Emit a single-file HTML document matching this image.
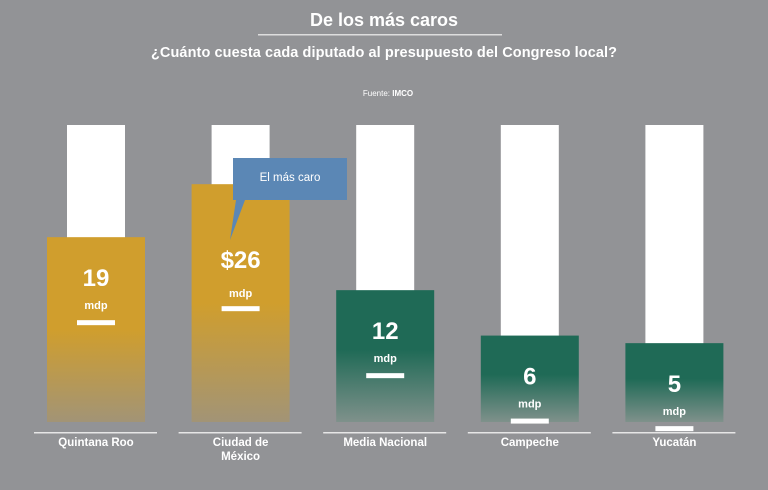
<!DOCTYPE html>
<html><head><meta charset="utf-8"><style>
body{margin:0;width:768px;height:485px;background:#929396;font-family:"Liberation Sans",sans-serif;overflow:hidden}
</style></head><body>
<svg width="768" height="485">
<defs>
<linearGradient id="gGold" x1="0" y1="0" x2="0" y2="1"><stop offset="0.5" stop-color="#d09e2d"/><stop offset="1" stop-color="#a29476"/></linearGradient>
<linearGradient id="gGreen" x1="0" y1="0" x2="0" y2="1"><stop offset="0.45" stop-color="#1f6a56"/><stop offset="1" stop-color="#7f918b"/></linearGradient>
</defs>
<text x="384" y="26" text-anchor="middle" font-size="18" font-weight="bold" fill="#fff">De los más caros</text>
<rect x="258" y="34" width="244" height="1.5" fill="#ddd"/>
<text x="384" y="57" text-anchor="middle" font-size="14.5" font-weight="bold" fill="#fff" textLength="466">¿Cuánto cuesta cada diputado al presupuesto del Congreso local?</text>
<text x="388" y="96" text-anchor="middle" font-size="8" fill="#fff">Fuente: <tspan font-weight="bold">IMCO</tspan></text>
<g id="bars"></g>
<g>
<path d="M233,158 H347 V200 H245 L230,240 L236,200 H233 Z" fill="#5b87b5"/>
<text x="290" y="181" text-anchor="middle" font-size="11.5" fill="#fff">El más caro</text>
</g>
</svg>
<script>
const categories=["Quintana Roo","Ciudad de|México","Media Nacional","Campeche","Yucatán"];
const values=[19,26,12,6,5];
const valueLabels=["19","$26","12","6","5"];
const colorKeys=["gold","gold","green","green","green"];
const ns="http://www.w3.org/2000/svg";
const g=document.getElementById("bars");
const base=422;
function yScale(v){return base-(41+7.57*v);}
function xCenter(i){return 96+i*144.6;}
function mk(t,a){const e=document.createElementNS(ns,t);for(const k in a)e.setAttribute(k,a[k]);g.appendChild(e);return e;}
categories.forEach((c,i)=>{
 const cx=xCenter(i),top=yScale(values[i]);
 const bg=mk("rect",{x:cx-29,y:125,width:58,height:base-125,fill:"#fff"});
 
 
 const b=mk("rect",{x:cx-49,y:top,width:98,height:base-top,fill:colorKeys[i]==="gold"?"url(#gGold)":"url(#gGreen)"});
 
 
 const off=i===1?[84,113,122]:[49,72,83];
 const t=mk("text",{x:cx,y:top+off[0],"text-anchor":"middle","font-size":"24","font-weight":"bold",fill:"#fff"});
 t.textContent=valueLabels[i];
 
 
 const m=mk("text",{x:cx,y:top+off[1],"text-anchor":"middle","font-size":"11","font-weight":"bold",fill:"#fff"});
 m.textContent="mdp";
 
 
 const d=mk("rect",{x:cx-19,y:top+off[2],width:38,height:5,fill:"#fff"});
 
 
 const l=mk("rect",{x:cx-62,y:432,width:123,height:1.5,fill:"#e6e6e6"});
 
 
 c.split("|").forEach((line,j)=>{
  const tx=mk("text",{x:cx,y:446+j*14,"text-anchor":"middle","font-size":"11.5","font-weight":"bold",fill:"#fff"});
  tx.textContent=line;
  
  
 });
});
</script>
</body></html>
